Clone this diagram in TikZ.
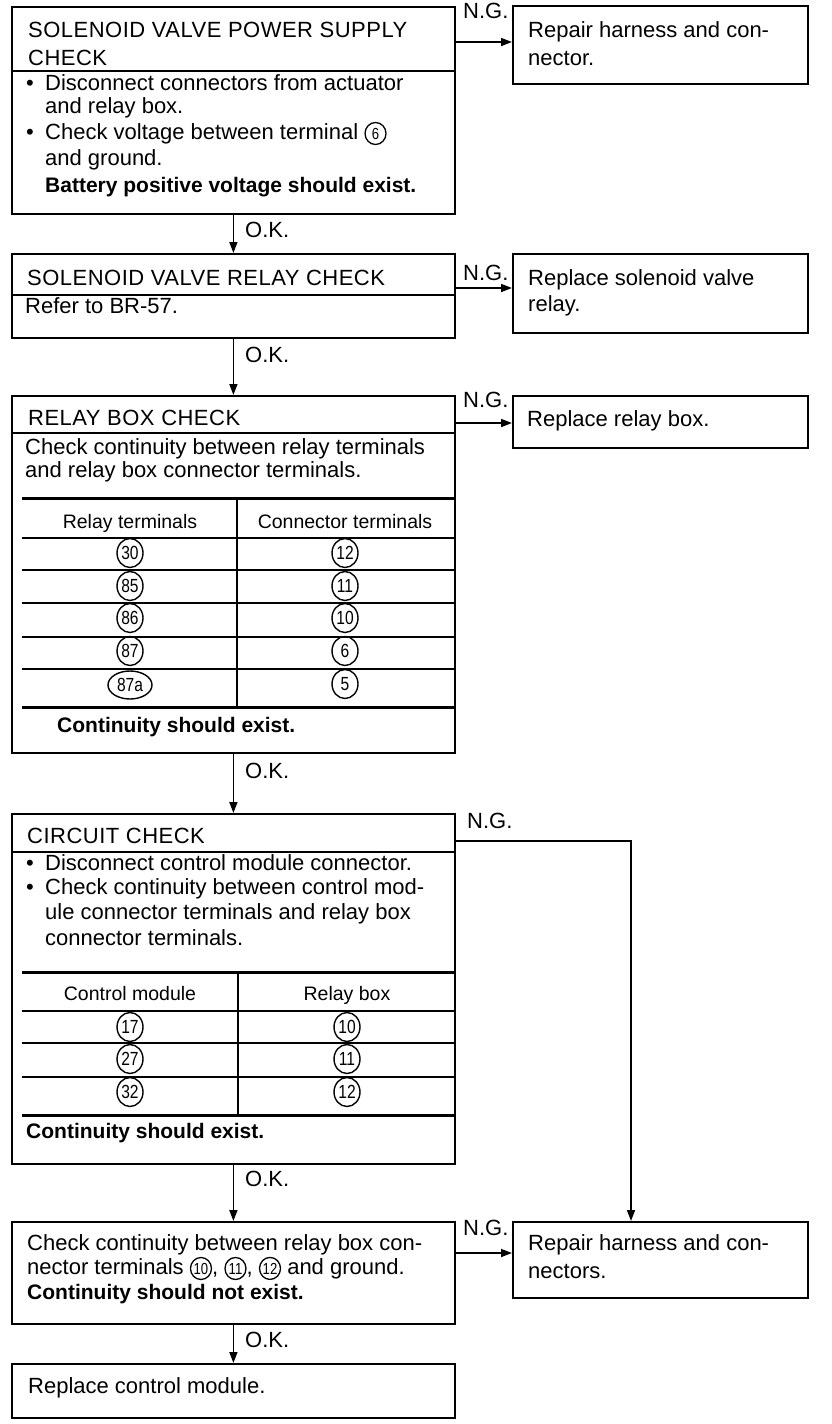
\documentclass[tikz,border=0pt]{standalone}
\usepackage{fontspec}
\setmainfont{Liberation Sans}
\newfontfamily\numfont[FakeStretch=0.82]{Liberation Sans}
\usetikzlibrary{arrows.meta,shapes.geometric}
\newcommand\fsN{\fontsize{22}{25.5}\selectfont}
\newcommand\fsH{\fontsize{22}{25.5}\selectfont\addfontfeature{LetterSpace=2.2}}
\newcommand\fsB{\fontsize{21}{25.5}\selectfont\bfseries}
\newcommand\fsT{\fontsize{19.5}{22}\selectfont}
\newcommand\fsC{\numfont\fontsize{19}{19}\selectfont}
\newcommand\fsI{\numfont\fontsize{16}{16}\selectfont}
\newcommand\cn[1]{\tikz[baseline=(cx.base)]\node[draw,ellipse,line width=1.3pt,inner sep=0pt,minimum width=21pt,minimum height=22pt,font=\fsI](cx){#1};}
\tikzset{
  box/.style={draw, line width=1.8pt, rectangle, inner sep=0pt, anchor=north west},
  txt/.style={anchor=base west, inner sep=0pt, font=\fsN},
  htxt/.style={anchor=base west, inner sep=0pt, font=\fsH},
  btxt/.style={anchor=base west, inner sep=0pt, font=\fsB},
  ttxt/.style={anchor=base, inner sep=0pt, font=\fsT},
  lbl/.style={anchor=base west, inner sep=0pt, font=\fsN},
  cnum/.style={draw, ellipse, line width=1.4pt, inner sep=0pt, minimum width=26pt, minimum height=29pt, font=\fsC},
  rule/.style={line width=1.6pt},
  thick rule/.style={line width=3pt},
  arr/.style={line width=1.6pt, -{Triangle[length=11pt,width=8pt]}},
}
\begin{document}
\begin{tikzpicture}[x=1pt,y=-1pt]
\fill[white] (0,0) rectangle (832,1424);
\useasboundingbox (0,0) rectangle (832,1424);

% ---------- boxes ----------
\node[box, minimum width=443pt, minimum height=207pt] (b1) at (11,6) {};
\node[box, minimum width=295pt, minimum height=78pt] (b2) at (512,5) {};
\node[box, minimum width=443pt, minimum height=84pt] (b3) at (11,253) {};
\node[box, minimum width=295pt, minimum height=79pt] (b4) at (512,253) {};
\node[box, minimum width=443pt, minimum height=357pt] (b5) at (11,395) {};
\node[box, minimum width=295pt, minimum height=52pt] (b6) at (512,395) {};
\node[box, minimum width=443pt, minimum height=350pt] (b7) at (11,813) {};
\node[box, minimum width=443pt, minimum height=102pt] (b8) at (11,1221) {};
\node[box, minimum width=295pt, minimum height=76pt] (b9) at (512,1221) {};
\node[box, minimum width=443pt, minimum height=54pt] (b10) at (11,1363) {};

% ---------- header dividers ----------
\draw[rule] (b1.west |- 0,71) -- (b1.east |- 0,71);
\draw[rule] (b3.west |- 0,295) -- (b3.east |- 0,295);
\draw[rule] (b5.west |- 0,433) -- (b5.east |- 0,433);
\draw[rule] (b7.west |- 0,852) -- (b7.east |- 0,852);

% ---------- box 1 ----------
\node[htxt] (t1a) at (28,37) {SOLENOID VALVE POWER SUPPLY};
\node[htxt] (t1b) at (28,65) {CHECK};
\node[txt] (u1a) at (26,90) {•};
\node[txt] (t1c) at (45,90) {Disconnect connectors from actuator};
\node[txt] (t1d) at (45,113) {and relay box.};
\node[txt] (u1b) at (26,139) {•};
\node[txt] (t1e) at (45,139) {Check voltage between terminal \cn{6}};
\node[txt] (t1f) at (45,165) {and ground.};
\node[btxt] (t1g) at (45,192) {Battery positive voltage should exist.};

% ---------- box 2 ----------
\node[txt] (t2a) at (528,37) {Repair harness and con-};
\node[txt] (t2b) at (528,65) {nector.};

% ---------- box 3 / 4 ----------
\node[htxt] (t3a) at (27,285) {SOLENOID VALVE RELAY CHECK};
\node[txt] (t3b) at (25,313) {Refer to BR-57.};
\node[txt] (t4a) at (528,285) {Replace solenoid valve};
\node[txt] (t4b) at (528,311) {relay.};

% ---------- box 5 ----------
\node[htxt] (t5a) at (28,425) {RELAY BOX CHECK};
\node[txt] (t5b) at (25,454) {Check continuity between relay terminals};
\node[txt] (t5c) at (25,477) {and relay box connector terminals.};
\draw[thick rule] (22,498) -- (b5.east |- 0,498);
\draw[rule] (22,538) -- (b5.east |- 0,538);
\draw[rule] (22,570) -- (b5.east |- 0,570);
\draw[rule] (22,603) -- (b5.east |- 0,603);
\draw[rule] (22,637) -- (b5.east |- 0,637);
\draw[rule] (22,669) -- (b5.east |- 0,669);
\draw[thick rule] (22,707) -- (b5.east |- 0,707);
\draw[rule] (237,498) -- (237,707);
\node[ttxt] (h5a) at (130,528) {Relay terminals};
\node[ttxt] (h5b) at (345,528) {Connector terminals};
\node[cnum] (r1a) at (130,553) {30};
\node[cnum] (r1b) at (345,553) {12};
\node[cnum] (r2a) at (130,586) {85};
\node[cnum] (r2b) at (345,586) {11};
\node[cnum] (r3a) at (130,618) {86};
\node[cnum] (r3b) at (345,618) {10};
\node[cnum] (r4a) at (130,651) {87};
\node[cnum] (r4b) at (345,651) {6};
\node[cnum, minimum width=44pt, minimum height=28pt] (r5a) at (130,685) {87a};
\node[cnum] (r5b) at (345,684) {5};
\node[btxt] (t5d) at (57,732) {Continuity should exist.};

% ---------- box 6 ----------
\node[txt] (t6a) at (527,426) {Replace relay box.};

% ---------- box 7 ----------
\node[htxt] (t7a) at (27,843) {CIRCUIT CHECK};
\node[txt] (u7a) at (26,870) {•};
\node[txt] (t7b) at (45,870) {Disconnect control module connector.};
\node[txt] (u7b) at (26,894) {•};
\node[txt] (t7c) at (45,894) {Check continuity between control mod-};
\node[txt] (t7d) at (45,919) {ule connector terminals and relay box};
\node[txt] (t7e) at (45,945) {connector terminals.};
\draw[thick rule] (22,972) -- (b7.east |- 0,972);
\draw[rule] (22,1011) -- (b7.east |- 0,1011);
\draw[rule] (22,1043) -- (b7.east |- 0,1043);
\draw[rule] (22,1077) -- (b7.east |- 0,1077);
\draw[thick rule] (22,1115) -- (b7.east |- 0,1115);
\draw[rule] (238,972) -- (238,1115);
\node[ttxt] (h7a) at (130,1000) {Control module};
\node[ttxt] (h7b) at (347,1000) {Relay box};
\node[cnum] (s1a) at (130,1027) {17};
\node[cnum] (s1b) at (347,1027) {10};
\node[cnum] (s2a) at (130,1059) {27};
\node[cnum] (s2b) at (347,1059) {11};
\node[cnum] (s3a) at (130,1092) {32};
\node[cnum] (s3b) at (347,1092) {12};
\node[btxt] (t7f) at (26,1138) {Continuity should exist.};

% ---------- box 8 / 9 / 10 ----------
\node[txt] (t8a) at (27,1250) {Check continuity between relay box con-};
\node[txt] (t8b) at (27,1274) {nector terminals \cn{10}, \cn{11}, \cn{12} and ground.};
\node[btxt] (t8c) at (27,1299) {Continuity should not exist.};
\node[txt] (t9a) at (528,1250) {Repair harness and con-};
\node[txt] (t9b) at (528,1278) {nectors.};
\node[txt] (t10a) at (28,1393) {Replace control module.};

% ---------- O.K. connectors ----------
\draw[arr] (b1.south) -- (b3.north);
\draw[arr] (b3.south) -- (b5.north);
\draw[arr] (b5.south) -- (b7.north);
\draw[arr] (b7.south) -- (b8.north);
\draw[arr] (b8.south) -- (b10.north);
\node[lbl] (ok1) at (245,237) {O.K.};
\node[lbl] (ok2) at (245,362) {O.K.};
\node[lbl] (ok3) at (245,778) {O.K.};
\node[lbl] (ok4) at (245,1186) {O.K.};
\node[lbl] (ok5) at (245,1347) {O.K.};

% ---------- N.G. connectors ----------
\draw[arr] (b1.east |- 0,42) -- (b2.west |- 0,42);
\draw[arr] (b3.east |- 0,288) -- (b4.west |- 0,288);
\draw[arr] (b5.east |- 0,423) -- (b6.west |- 0,423);
\coordinate (c7) at (631,841);
\draw[arr] (b7.east |- c7) -- (c7) -- (c7 |- b9.north);
\draw[arr] (b8.east |- 0,1253) -- (b9.west |- 0,1253);
\node[lbl] (ng1) at (463,18) {N.G.};
\node[lbl] (ng2) at (463,280) {N.G.};
\node[lbl] (ng3) at (463,407) {N.G.};
\node[lbl] (ng4) at (467,828) {N.G.};
\node[lbl] (ng5) at (463,1235) {N.G.};
\end{tikzpicture}
\end{document}
